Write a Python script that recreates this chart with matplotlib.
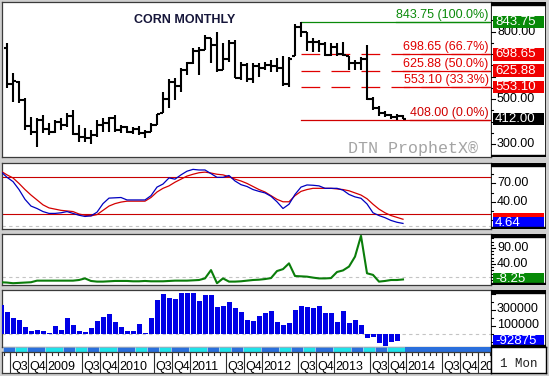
import matplotlib
matplotlib.use("Agg")
import matplotlib.pyplot as plt
from matplotlib.patches import Rectangle
import numpy as np

# ---------------- data ----------------
# monthly OHLC bars, index 0..66 (Jul 2008 .. Jan 2014)
opens = [726, 565, 578, 495, 380, 355, 405, 365, 352, 400, 385, 425, 345, 330, 325, 340, 385, 395, 415, 362,
         375, 352, 365, 350, 355, 385, 440, 500, 575, 560, 630, 660, 715, 720, 770, 740, 630, 680, 750, 595,
         650, 590, 645, 640, 650, 645, 640, 565, 690, 820, 800, 755, 755, 745, 698, 730, 700, 690, 660, 660,
         680, 500, 460, 440, 430, 420, 425]
highs = [748, 615, 580, 503, 422, 414, 429, 392, 407, 414, 437, 451, 385, 370, 362, 407, 414, 422, 429, 385,
         380, 377, 380, 362, 392, 435, 530, 590, 593, 637, 666, 726, 733, 785, 771, 800, 748, 763, 763, 666,
         659, 659, 659, 666, 674, 683, 690, 685, 835, 843.75, 800, 770, 763, 752, 748, 748, 756, 692, 674, 689,
         741, 511, 470, 448, 434, 432, 430]
lows = [548, 489, 484, 362, 340, 288, 348, 340, 348, 362, 377, 340, 310, 310, 300, 333, 355, 355, 355, 348,
        348, 344, 340, 325, 352, 385, 440, 460, 496, 533, 607, 655, 607, 719, 659, 622, 629, 666, 593, 585,
        577, 570, 600, 629, 622, 620, 560, 555, 690, 778, 715, 711, 711, 690, 690, 690, 690, 629, 629, 629,
        496, 451, 425, 419, 412, 408, 410]
closes = [565, 580, 495, 380, 355, 405, 365, 352, 400, 385, 425, 345, 330, 325, 340, 385, 395, 415, 362, 375,
          352, 365, 350, 355, 385, 432, 500, 575, 560, 630, 660, 715, 720, 770, 740, 630, 680, 750, 595, 650,
          590, 645, 640, 650, 645, 640, 565, 680, 820, 800, 755, 755, 745, 698, 730, 700, 695, 660, 660, 680,
          500, 460, 440, 430, 420, 425, 412]

# indicators, index -1..66
stoch_k = [89, 80, 73, 60, 44, 33, 29, 24, 21, 21, 22, 24, 21, 18, 16, 17, 23, 37, 46, 46.5, 47, 43, 43, 43, 43,
           50, 64, 69, 79, 77, 84, 90, 93, 92, 92, 86, 80, 80, 83, 74, 68, 65, 60, 57, 54.5, 49, 40, 29, 36,
           52, 64, 67.5, 67, 66, 62, 62, 62, 59, 52, 48, 45.7, 36.5, 22, 17.5, 14, 9.5, 6.5, 4.64]
stoch_d = [90, 84, 79, 70, 60, 51, 43, 35, 30, 28, 26, 25, 24, 20, 18, 17, 19, 26, 33, 37, 39.5, 41, 41, 41, 41,
           47, 56, 62, 66, 72, 77, 82, 85, 87.5, 88.5, 87, 85, 84, 81, 77, 74, 70, 65, 60, 56, 50, 44, 40, 40,
           50, 57, 60, 62, 62, 62, 62, 61, 60, 58, 54.5, 51, 45, 36, 28, 22, 17.5, 14.5, 11.45]
green_ind = [-17, -18, -20, -19, -18, -17, -12, -12, -12, -12, -12, -12, -12, -10, -5, -13, -15, -15, -14, -13,
             -13, -13, -14, -14, -13, -14, -14, -14, -13, -12, -12, -12, -11, -10, -5, 21, -20, -5, -15, -15,
             -14, -12, -10, -9, -7, -4, 18, 24, 42, 2.5, 1.5, 0.5, -2.5, -5, -5, -4, 15, 20, 32, 63, 128,
             11, 6, -15, -13, -10, -10, -8.25]
# histogram, index -1..65
net_pos = [356000, 273000, 198000, 169000, 85000, 35000, 44000, 31000, 2000, 94000, 44000, 190000, 106000,
           35000, 23000, 65000, 156000, 206000, 244000, 144000, 85000, 35000, 35000, 115000, 10000, 190000,
           419000, 494000, 440000, 427000, 510000, 510000, 505000, 410000, 481000, 481000, 335000, 344000,
           390000, 323000, 265000, 169000, 156000, 219000, 252000, 281000, 144000, 106000, 127000, 294000,
           344000, 335000, 323000, 344000, 252000, 252000, 148000, 281000, 135000, 165000, 106000, -62000,
           -42000, -117000, -158000, -104000, -92875]

fib_values = [843.75, 698.65, 625.88, 553.10, 408.00]
fib_labels = ["843.75 (100.0%)", "698.65 (66.7%)", "625.88 (50.0%)", "553.10 (33.3%)", "408.00 (0.0%)"]
fib_start = 49

tick_labels = ["Q3", "Q4", "2009", "", "Q3", "Q4", "2010", "", "Q3", "Q4", "2011", "", "Q3", "Q4", "2012", "",
               "Q3", "Q4", "2013", "", "Q3", "Q4", "2014", "", "Q3", "Q4", "2015"]
strip_lengths = [2, 2, 3, 3, 2, 2, 2, 3, 3, 2, 2, 2, 3, 3, 2, 2, 2, 3, 3, 2, 2, 2, 3, 3, 2, 2, 2, 3]

# ---------------- layout ----------------
W, H = 549, 376
plt.rcParams['font.family'] = ['Liberation Sans', 'DejaVu Sans']
fig = plt.figure(figsize=(W / 100, H / 100), dpi=100)
fig.patch.set_facecolor('#cfcfcf')

XL, XR, XE = 2, 491, 546


def px_ax(x0, y0, x1, y1, **kw):
    return fig.add_axes([x0 / W, 1 - y1 / H, (x1 - x0) / W, (y1 - y0) / H], **kw)


def i_of_px(p):
    return (p - 7) / 6.0


XLIM = (i_of_px(XL), i_of_px(XR))
SPINE = '#3a3a3a'


def make_panel(y0, y1, ylim):
    ax = px_ax(XL, y0, XR, y1)
    ax.set_xlim(*XLIM)
    ax.set_ylim(*ylim)
    ax.set_xticks([])
    ax.set_yticks([])
    ax.set_facecolor('white')
    for s in ax.spines.values():
        s.set_color(SPINE)
        s.set_linewidth(0.9)
    rax = px_ax(XR, y0, XE, y1)
    rax.set_xlim(0, XE - XR)
    rax.set_ylim(*ylim)
    rax.axis('off')
    rax.add_patch(Rectangle((0, 0), 1, 1, transform=rax.transAxes, facecolor='white', edgecolor='none', zorder=0))
    return ax, rax


def right_ticks(rax, y0, y1, ylim, majors, labeled, minors):
    for v in majors:
        rax.plot([0, 3.5], [v, v], color='black', lw=0.8, zorder=2, clip_on=True)
        if v in labeled:
            txt = ("%.2f" % v) if abs(v) < 1000 else ("%d" % v)
            rax.text(6, v, txt, fontsize=9, va='center', ha='left', color='black', zorder=2, clip_on=True)
    for v in minors:
        rax.plot([0, 2], [v, v], color='black', lw=0.8, zorder=2, clip_on=True)
    hpx = y1 - y0
    rax.add_patch(Rectangle((0, 1 - 3 / hpx), 1, 3 / hpx, transform=rax.transAxes, color='black', zorder=5))
    rax.add_patch(Rectangle((0, 0), 1, 2 / hpx, transform=rax.transAxes, color='black', zorder=5))
    rax.plot([0, 0], [0, 1], transform=rax.transAxes, color='black', lw=1.2, zorder=6)
    rax.plot([1, 1], [0, 1], transform=rax.transAxes, color='black', lw=1.2, zorder=6)


def value_box(rax, y0, y1, ylim, v, text, color, z=4):
    upp = (ylim[1] - ylim[0]) / (y1 - y0)
    hh = 6.3 * upp
    rax.add_patch(Rectangle((2, v - hh), 51, 2 * hh, facecolor=color, edgecolor='none', zorder=z))
    if text:
        rax.text(4, v, text, color='white', fontsize=9.5, va='center', ha='left', zorder=z + 0.1)


# ---------------- price panel ----------------
P0, P1 = 2, 157
PLIM = (242.1, 932.0)
ax, rax = make_panel(P0, P1, PLIM)
idx = np.arange(len(highs))
ax.vlines(idx, lows, highs, color='black', lw=1.5, zorder=3)
ax.hlines(opens, idx - 0.42, idx, color='black', lw=1.5, zorder=3)
ax.hlines(closes, idx, idx + 0.42, color='black', lw=1.5, zorder=3)

fib_colors = ['#0a8a0a', '#e00000', '#e00000', '#e00000', '#d00000']
fib_styles = ['-', (0, (15, 9)), (0, (15, 9)), (0, (15, 9)), '-']
for v, lab, c, ls in zip(fib_values, fib_labels, fib_colors, fib_styles):
    ax.plot([fib_start, XLIM[1]], [v, v], color=c, lw=0.9, ls=ls, zorder=2)
upp_p = (PLIM[1] - PLIM[0]) / (P1 - P0)
renderer = fig.canvas.get_renderer()
for v, lab, c in zip(fib_values, fib_labels, fib_colors):
    t = ax.text(i_of_px(488.5), v + 4.2 * upp_p, lab, color=c, fontsize=9, ha='right', va='baseline', zorder=4)
    bb = t.get_window_extent(renderer)
    inv = ax.transData.inverted()
    xa = inv.transform((bb.x0, 0))[0]
    xb = inv.transform((bb.x1, 0))[0]
    ax.plot([xa, xb], [v, v], color=c, lw=0.9, zorder=3)

right_ticks(rax, P0, P1, PLIM, [300, 400, 500, 600, 700, 800], [300, 500, 800],
            [350, 450, 550, 650, 750, 850])
value_box(rax, P0, P1, PLIM, 843.75, "843.75", '#078a07')
value_box(rax, P0, P1, PLIM, 698.65, "698.65", '#f00000')
value_box(rax, P0, P1, PLIM, 625.88, "625.88", '#f00000')
value_box(rax, P0, P1, PLIM, 553.10, "553.10", '#f00000')
value_box(rax, P0, P1, PLIM, closes[-1], "%.2f" % closes[-1], '#000000')

fig.text(134 / W, 1 - 23 / H, "CORN MONTHLY", fontsize=9, fontweight='bold', color='#16163a', va='baseline')
fig.text(348 / W, 1 - 153 / H, "DTN ProphetX\u00ae", fontsize=12, family='Liberation Mono', color='#a4a4a4',
         va='baseline')

# ---------------- stochastic panel ----------------
S0, S1 = 163, 229
SLIM = (-4.5, 103.4)
ax2, rax2 = make_panel(S0, S1, SLIM)
ii = np.arange(-1, len(stoch_k) - 1)
ax2.axhline(80, color='#c80000', lw=0.8, zorder=2)
ax2.axhline(20, color='#c80000', lw=0.8, zorder=2)
ax2.axhline(0, color='#c4c4c4', lw=0.8, ls=(0, (3, 3)), zorder=1)
ax2.plot(ii, stoch_d, color='#d40000', lw=0.9, zorder=3)
ax2.plot(ii, stoch_k, color='#0000c0', lw=0.9, zorder=4)
right_ticks(rax2, S0, S1, SLIM, [10, 40, 70, 100], [40, 70], [25, 55, 85])
value_box(rax2, S0, S1, SLIM, stoch_d[-1], "", '#ff0000', z=3)
value_box(rax2, S0, S1, SLIM, stoch_k[-1], "%.2f" % stoch_k[-1], '#0000ff', z=4)

# ---------------- green indicator panel ----------------
G0, G1 = 234, 285
GLIM = (-25.6, 133.75)
ax3, rax3 = make_panel(G0, G1, GLIM)
gi = np.arange(-1, len(green_ind) - 1)
ax3.axhline(0, color='#c4c4c4', lw=0.8, ls=(0, (3, 3)), zorder=1)
ax3.plot(gi, green_ind, color='#0a7d0a', lw=1.5, zorder=3)
right_ticks(rax3, G0, G1, GLIM, [-10, 40, 90], [40, 90], [0, 10, 20, 30, 50, 60, 70, 80, 100, 110, 120])
value_box(rax3, G0, G1, GLIM, green_ind[-1], "%.2f" % green_ind[-1], '#078a07')

# ---------------- histogram panel ----------------
V0, V1 = 290, 346.5
VLIM = (-162500, 543750)
ax4, rax4 = make_panel(V0, V1, VLIM)
vi = np.arange(-1, len(net_pos) - 1)
ax4.axhline(0, color='#c4c4c4', lw=0.8, ls=(0, (3, 3)), zorder=1)
ax4.bar(vi + 0.1, net_pos, width=0.85, color='#0000e6', zorder=3, linewidth=0)
right_ticks(rax4, V0, V1, VLIM, [-100000, 100000, 300000, 500000], [100000, 300000], [0, 200000, 400000])
value_box(rax4, V0, V1, VLIM, net_pos[-1], "%d" % net_pos[-1], '#0000ff')

# ---------------- contract strip ----------------
sax = px_ax(XL, 346.5, XR, 352)
sax.set_xlim(*XLIM)
sax.set_ylim(0, 1)
sax.axis('off')
pos = -0.75
cols = ['#2a6fdc', '#1fe3ea']
for k, L in enumerate(strip_lengths):
    sax.add_patch(Rectangle((pos, 0), L, 1, facecolor=cols[k % 2], edgecolor='#c8d8f0', lw=0.4))
    pos += L
sax.add_patch(Rectangle((pos, 0), XLIM[1] - pos + 1, 1, facecolor=cols[len(strip_lengths) % 2], edgecolor='none'))

# ---------------- date labels ----------------
lax = px_ax(XL, 352, XR, 373)
lax.set_xlim(*XLIM)
lax.set_ylim(21, 0)
lax.set_xticks([])
lax.set_yticks([])
lax.set_facecolor('white')
for s in lax.spines.values():
    s.set_color(SPINE)
    s.set_linewidth(0.9)
for m in range(-1, 81):
    lax.plot([m + 0.42, m + 0.42], [0, 3], color='#303030', lw=0.8)
for q, lab in enumerate(tick_labels):
    x = 0.42 + 3 * q
    if lab:
        lax.plot([x, x], [0, 21], color='#303030', lw=0.8)
        lax.text(x + 0.25, 18, lab, fontsize=9, ha='left', va='baseline', color='black', clip_on=True)

rl = px_ax(XR, 346.5, XE, 373)
rl.set_xlim(0, XE - XR)
rl.set_ylim(26.5, 0)
rl.set_xticks([])
rl.set_yticks([])
rl.set_facecolor('white')
for s in rl.spines.values():
    s.set_color('black')
    s.set_linewidth(1.0)
rl.text(9, 20.5, "1 Mon", fontsize=9, family='Liberation Mono', color='#202020', va='baseline')

fig.savefig("out.png", dpi=100, facecolor=fig.get_facecolor())
